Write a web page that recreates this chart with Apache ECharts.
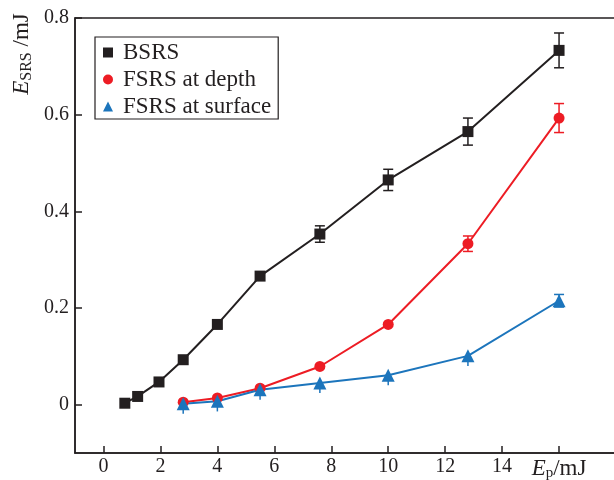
<!DOCTYPE html>
<html>
<head>
<meta charset="utf-8">
<script src="https://cdn.jsdelivr.net/npm/echarts@6/dist/echarts.min.js"></script>
<style>html,body{margin:0;padding:0;background:#fff}#c{width:614px;height:480px}</style>
</head>
<body>
<div id="c"></div>
<script>
// ---- data ----
const epBSRS = [0.75, 1.2, 1.95, 2.8, 4.0, 5.5, 7.6, 10.0, 12.8, 16.0];
const bsrs = [0.003, 0.017, 0.047, 0.093, 0.166, 0.266, 0.353, 0.465, 0.565, 0.733];
const bsrsErrLow = [0, 0, 0, 0, 0, 0, 0.017, 0.022, 0.028, 0.036];
const bsrsErrHigh = [0, 0, 0, 0, 0, 0, 0.017, 0.022, 0.028, 0.036];
const epFSRS = [2.8, 4.0, 5.5, 7.6, 10.0, 12.8, 16.0];
const fsrsDepth = [0.005, 0.014, 0.034, 0.079, 0.166, 0.333, 0.593];
const fsrsDepthErrLow = [0, 0, 0, 0, 0, 0.016, 0.030];
const fsrsDepthErrHigh = [0, 0, 0, 0, 0, 0.016, 0.030];
const fsrsSurface = [0.002, 0.007, 0.031, 0.045, 0.061, 0.101, 0.215];
const fsrsSurfaceErrLow = [0.021, 0.021, 0.021, 0.021, 0.021, 0.021, 0.013];
const fsrsSurfaceErrHigh = [0, 0, 0, 0, 0, 0, 0.013];
const xTicks = [0, 2, 4, 6, 8, 10, 12, 14, 16];
const yTicks = [0, 0.2, 0.4, 0.6, 0.8];
const seriesNames = ['BSRS', 'FSRS at depth', 'FSRS at surface'];

const FONT = '"Liberation Serif", "DejaVu Serif", serif';
const INK = '#231f20';
const colors = ['#231f20', '#ed1c24', '#1c75bc'];

function pairs(xs, ys) { return xs.map((x, i) => [x, ys[i]]); }
function errData(xs, ys, lo, hi) {
  return xs.map((x, i) => [x, ys[i] - lo[i], ys[i] + hi[i], hi[i] > 0 ? 1 : 0])
           .filter((d, i) => lo[i] > 0 || hi[i] > 0);
}
function errSeries(name, data, color) {
  return {
    type: 'custom', name: name, data: data, z: 1, silent: true,
    renderItem: function (params, api) {
      const x = api.value(0);
      const lo = api.coord([x, api.value(1)]);
      const hi = api.coord([x, api.value(2)]);
      const capped = api.value(3) > 0;
      const cw = 5;
      const st = { stroke: color, lineWidth: 1.5 };
      const children = [
        { type: 'line', shape: { x1: lo[0], y1: lo[1], x2: hi[0], y2: hi[1] }, style: st }
      ];
      if (capped) {
        children.push({ type: 'line', shape: { x1: lo[0] - cw, y1: lo[1], x2: lo[0] + cw, y2: lo[1] }, style: st });
        children.push({ type: 'line', shape: { x1: hi[0] - cw, y1: hi[1], x2: hi[0] + cw, y2: hi[1] }, style: st });
      }
      return { type: 'group', children: children };
    }
  };
}
function lineSeries(name, data, color, symbol, size) {
  return {
    type: 'line', name: name, data: data, z: 3,
    symbol: symbol, symbolSize: size, showSymbol: true,
    lineStyle: { color: color, width: 2 },
    itemStyle: { color: color },
    emphasis: { disabled: true }
  };
}

const chart = echarts.init(document.getElementById('c'), null, { renderer: 'canvas' });
chart.setOption({
  animation: false,
  backgroundColor: '#fff',
  grid: {
    left: 75, right: -2, top: 18, bottom: 27,
    containLabel: false, outerBoundsMode: 'none',
    show: true, borderColor: INK, borderWidth: 1.5
  },
  legend: {
    orient: 'vertical', left: 95, top: 37,
    data: [
      { name: seriesNames[0], icon: 'rect' },
      { name: seriesNames[1], icon: 'circle' },
      { name: seriesNames[2], icon: 'triangle' }
    ],
    itemWidth: 10, itemHeight: 10, itemGap: 4,
    padding: [4, 7, 1, 8],
    borderColor: INK, borderWidth: 1.2,
    textStyle: { fontFamily: FONT, fontSize: 23, color: INK, lineHeight: 22, padding: [0, 0, 0, 5] }
  },
  xAxis: {
    type: 'value', min: -1, max: 18,
    axisLine: { show: true, onZero: false, lineStyle: { color: INK, width: 1.5 } },
    axisTick: { show: true, inside: true, length: 7, customValues: xTicks, lineStyle: { color: INK, width: 1.5 } },
    axisLabel: {
      customValues: xTicks, margin: 4, fontFamily: FONT, fontSize: 20, color: INK,
      formatter: function (v) { return v === 16 ? '{i|E}{s|p}{n|/mJ}' : String(v); },
      rich: {
        i: { fontFamily: FONT, fontSize: 23, fontStyle: 'italic', color: INK },
        s: { fontFamily: FONT, fontSize: 15, color: INK, padding: [9, 0, 0, 0] },
        n: { fontFamily: FONT, fontSize: 23, color: INK }
      }
    },
    splitLine: { show: false }
  },
  yAxis: {
    type: 'value', min: -0.1, max: 0.8,
    axisLine: { show: true, onZero: false, lineStyle: { color: INK, width: 1.5 } },
    axisTick: { show: true, inside: true, length: 7, customValues: yTicks, lineStyle: { color: INK, width: 1.5 } },
    axisLabel: {
      customValues: yTicks, margin: 6, fontFamily: FONT, fontSize: 20, color: INK,
      formatter: function (v) { return v === 0 ? '0' : v.toFixed(1); }
    },
    splitLine: { show: false }
  },
  graphic: [{
    type: 'text', x: 22, y: 54, rotation: Math.PI / 2,
    style: {
      text: '{i|E}{s|SRS}{n| /mJ}', align: 'center', verticalAlign: 'middle',
      rich: {
        i: { fontFamily: FONT, fontSize: 23, fontStyle: 'italic', fill: INK },
        s: { fontFamily: FONT, fontSize: 16, fill: INK, padding: [9, 0, 0, 0] },
        n: { fontFamily: FONT, fontSize: 23, fill: INK }
      }
    }
  }],
  series: [
    errSeries('eb0', errData(epBSRS, bsrs, bsrsErrLow, bsrsErrHigh), colors[0]),
    errSeries('eb1', errData(epFSRS, fsrsDepth, fsrsDepthErrLow, fsrsDepthErrHigh), colors[1]),
    errSeries('eb2', errData(epFSRS, fsrsSurface, fsrsSurfaceErrLow, fsrsSurfaceErrHigh), colors[2]),
    lineSeries(seriesNames[0], pairs(epBSRS, bsrs), colors[0], 'rect', 11),
    lineSeries(seriesNames[1], pairs(epFSRS, fsrsDepth), colors[1], 'circle', 11),
    lineSeries(seriesNames[2], pairs(epFSRS, fsrsSurface), colors[2], 'triangle', 13)
  ]
});
</script>
</body>
</html>
